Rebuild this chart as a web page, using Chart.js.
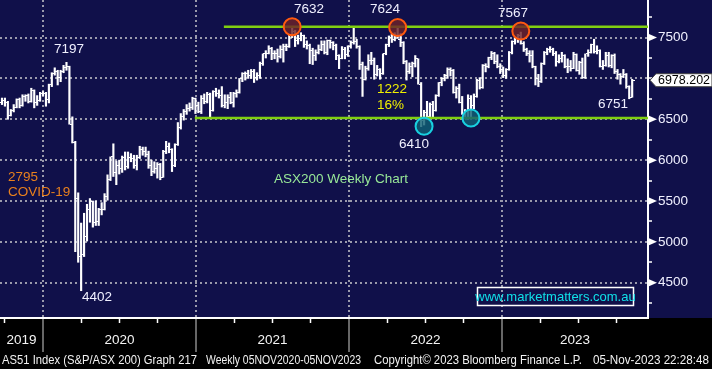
<!DOCTYPE html>
<html lang="en">
<head>
<meta charset="UTF-8">
<title>ASX200 Weekly Chart</title>
<style>
  html, body { margin: 0; padding: 0; background: #000; }
  canvas { display: block; }
</style>
</head>
<body>
<canvas id="asx" width="712" height="369"></canvas>
<script src="https://cdn.jsdelivr.net/npm/chart.js"></script>
<script>
// weekly OHLC bars, index 0 = week ending 20 Sep 2019, last = week ending 3 Nov 2023
const opens = [
  6700, 6730, 6700, 6550, 6610, 6650, 6740, 6670, 6780, 6790, 6720, 6850, 6700, 6730, 6820, 6810,
  6740, 6920, 7060, 7090, 7010, 7090, 7130, 7140, 6440, 6220, 5530, 4820, 4840, 5060, 5390, 5490,
  5240, 5250, 5390, 5400, 5550, 5760, 6040, 5850, 5940, 5900, 6030, 5920, 6030, 6020, 5930, 6030,
  6130, 6110, 6070, 5930, 5860, 5900, 5950, 5790, 6100, 6170, 6130, 5930, 6190, 6400, 6540, 6600,
  6630, 6640, 6750, 6670, 6590, 6760, 6720, 6800, 6610, 6840, 6810, 6790, 6670, 6710, 6770, 6710,
  6820, 6830, 7000, 7060, 7060, 7030, 7080, 7010, 7030, 7180, 7300, 7310, 7370, 7310, 7310, 7270,
  7350, 7390, 7390, 7520, 7580, 7460, 7490, 7520, 7410, 7400, 7340, 7280, 7320, 7360, 7420, 7320,
  7460, 7440, 7400, 7280, 7250, 7350, 7290, 7390, 7440, 7450, 7390, 7170, 6990, 7120, 7220, 7220,
  7050, 7110, 7060, 7300, 7410, 7500, 7480, 7520, 7480, 7440, 7210, 7080, 7150, 7180, 7240, 6930,
  6480, 6580, 6540, 6680, 6610, 6790, 6950, 7000, 7030, 7110, 7100, 6830, 6880, 6700, 6570, 6520,
  6760, 6670, 6780, 6980, 6890, 7160, 7140, 7260, 7300, 7210, 7150, 7110, 7040, 7110, 7320, 7450,
  7490, 7530, 7430, 7350, 7310, 7280, 7140, 7000, 6960, 7180, 7320, 7360, 7360, 7310, 7210, 7250,
  7280, 7150, 7140, 7120, 7290, 7100, 7200, 7010, 7300, 7320, 7410, 7330, 7340, 7150, 7160, 7280,
  7160, 7280, 7080, 7050, 7020, 7050, 6900, 6770
]
const highs = [
  6760, 6760, 6720, 6620, 6680, 6750, 6760, 6800, 6800, 6810, 6880, 6860, 6790, 6830, 6840, 6830,
  6930, 7070, 7130, 7100, 7100, 7160, 7197, 7150, 6530, 6230, 5600, 5230, 5350, 5460, 5530, 5500,
  5500, 5410, 5480, 5590, 5820, 6040, 6200, 5990, 6000, 6050, 6100, 6100, 6080, 6060, 6060, 6170,
  6160, 6160, 6110, 6000, 5980, 5970, 5960, 6120, 6230, 6210, 6140, 6200, 6460, 6570, 6620, 6680,
  6700, 6770, 6760, 6710, 6790, 6810, 6830, 6820, 6850, 6880, 6860, 6900, 6800, 6800, 6830, 6830,
  6860, 7000, 7070, 7080, 7100, 7110, 7110, 7070, 7200, 7300, 7340, 7400, 7380, 7340, 7360, 7400,
  7420, 7420, 7530, 7632, 7590, 7530, 7560, 7530, 7460, 7420, 7370, 7350, 7410, 7460, 7460, 7470,
  7470, 7450, 7420, 7290, 7390, 7380, 7400, 7460, 7620, 7480, 7400, 7200, 7150, 7290, 7320, 7250,
  7160, 7120, 7300, 7420, 7520, 7540, 7560, 7624, 7550, 7450, 7220, 7190, 7200, 7280, 7240, 6950,
  6610, 6720, 6700, 6720, 6800, 6950, 7010, 7050, 7130, 7130, 7110, 6900, 6930, 6780, 6620, 6800,
  6790, 6810, 6990, 7010, 7170, 7180, 7260, 7330, 7320, 7290, 7180, 7140, 7120, 7330, 7460, 7500,
  7540, 7567, 7450, 7370, 7340, 7340, 7150, 7050, 7190, 7330, 7370, 7390, 7370, 7330, 7290, 7320,
  7290, 7240, 7220, 7320, 7300, 7210, 7250, 7300, 7350, 7420, 7480, 7400, 7350, 7220, 7320, 7320,
  7290, 7300, 7110, 7060, 7110, 7060, 6910, 6990
]
const lows = [
  6680, 6660, 6500, 6540, 6590, 6640, 6640, 6660, 6720, 6700, 6710, 6640, 6670, 6720, 6790, 6660,
  6700, 6900, 7040, 6920, 6960, 7070, 7100, 6440, 6210, 4880, 4750, 4402, 4820, 5010, 5240, 5180,
  5200, 5200, 5330, 5390, 5510, 5750, 5800, 5700, 5830, 5850, 5880, 5900, 5980, 5900, 5880, 6020,
  6060, 6040, 5900, 5810, 5840, 5780, 5760, 5790, 6080, 6090, 5860, 5920, 6180, 6380, 6490, 6560,
  6600, 6620, 6570, 6580, 6570, 6690, 6700, 6530, 6600, 6780, 6760, 6650, 6640, 6630, 6690, 6650,
  6770, 6820, 6960, 6980, 7000, 7000, 6950, 6980, 7000, 7160, 7250, 7300, 7230, 7240, 7200, 7250,
  7200, 7340, 7380, 7500, 7390, 7420, 7460, 7380, 7360, 7180, 7170, 7220, 7300, 7340, 7300, 7290,
  7370, 7350, 7230, 7120, 7240, 7240, 7270, 7370, 7420, 7370, 7110, 6780, 6980, 7100, 7170, 6990,
  7030, 6990, 7050, 7290, 7390, 7440, 7460, 7490, 7390, 7180, 6980, 7060, 7020, 7140, 6930, 6410,
  6430, 6500, 6520, 6530, 6600, 6780, 6910, 6970, 7000, 7030, 6820, 6760, 6700, 6560, 6510, 6500,
  6510, 6630, 6770, 6870, 6880, 7080, 7130, 7230, 7180, 7130, 7060, 7010, 7000, 7100, 7300, 7420,
  7440, 7420, 7330, 7280, 7200, 7130, 6920, 6900, 6950, 7170, 7290, 7320, 7280, 7150, 7190, 7200,
  7130, 7070, 7090, 7120, 7090, 7050, 7000, 7000, 7270, 7310, 7310, 7300, 7140, 7110, 7150, 7140,
  7130, 7060, 6990, 6930, 7010, 6880, 6751, 6770
]
const closes = [
  6730, 6700, 6550, 6610, 6650, 6740, 6670, 6780, 6790, 6720, 6850, 6700, 6730, 6820, 6810, 6740,
  6920, 7060, 7090, 7010, 7090, 7130, 7140, 6440, 6220, 5530, 4820, 4840, 5060, 5390, 5490, 5240,
  5250, 5390, 5400, 5550, 5760, 6040, 5850, 5940, 5900, 6030, 5920, 6030, 6020, 5930, 6030, 6130,
  6110, 6070, 5930, 5860, 5900, 5950, 5790, 6100, 6170, 6130, 5930, 6190, 6400, 6540, 6600, 6630,
  6640, 6750, 6670, 6590, 6760, 6720, 6800, 6610, 6840, 6810, 6790, 6670, 6710, 6770, 6710, 6820,
  6830, 7000, 7060, 7060, 7030, 7080, 7010, 7030, 7180, 7300, 7310, 7370, 7310, 7310, 7270, 7350,
  7390, 7390, 7520, 7580, 7460, 7490, 7520, 7410, 7400, 7340, 7280, 7320, 7360, 7420, 7320, 7460,
  7440, 7400, 7280, 7250, 7350, 7290, 7390, 7440, 7450, 7390, 7170, 6990, 7120, 7220, 7220, 7050,
  7110, 7060, 7300, 7410, 7500, 7480, 7520, 7480, 7440, 7210, 7080, 7150, 7180, 7240, 6930, 6480,
  6580, 6540, 6680, 6610, 6790, 6950, 7000, 7030, 7110, 7100, 6830, 6880, 6700, 6570, 6520, 6760,
  6670, 6780, 6980, 6890, 7160, 7140, 7260, 7300, 7210, 7150, 7110, 7040, 7110, 7320, 7450, 7490,
  7530, 7430, 7350, 7310, 7280, 7140, 7000, 6960, 7180, 7320, 7360, 7360, 7310, 7210, 7250, 7280,
  7150, 7140, 7120, 7290, 7100, 7200, 7010, 7300, 7320, 7410, 7330, 7340, 7150, 7160, 7280, 7160,
  7280, 7080, 7050, 7020, 7050, 6900, 6770, 6978.202
]

// x axis in week-index units
const xMin = -0.68, xMax = 220.4
const yearNames = ['2019', '2020', '2021', '2022', '2023']
const yearStarts = [14.0, 66.2, 118.4, 170.6]
const quarterTicks = [0.95, 27.05, 40.1, 53.15, 79.25, 92.3, 105.35, 131.45, 144.5, 157.55, 183.65, 196.7, 209.75]
const yMin = 4068, yMax = 7960
const priceTicks = [4250, 4500, 4750, 5000, 5250, 5500, 5750, 6000, 6250, 6500, 6750, 7000, 7250, 7500, 7750]
const labelledPrices = [4500, 5000, 5500, 6000, 6500, 7500]

// support / resistance lines and circled turning points
const levels = [7632, 6515]
const levelStarts = [75.7, 65.8]
const peakWeeks = [99, 135, 177]
const peakValues = [7632, 7624, 7580]
const troughWeeks = [144, 160]
const troughValues = [6415, 6515]

const FONT = "'Liberation Sans', Arial, sans-serif"
const NAVY = '#10104a'
const DOTS = '#9a9aac'

const yearMids = [(xMin + yearStarts[0]) / 2]
for (let k = 0; k < yearStarts.length; k++) {
  const next = k + 1 < yearStarts.length ? yearStarts[k + 1] : xMax
  yearMids.push((yearStarts[k] + next) / 2)
}

// little open/close tick images used as point styles
function tickImage(left) {
  const c = document.createElement('canvas')
  c.width = 5
  c.height = 1
  const g = c.getContext('2d')
  g.fillStyle = '#ffffff'
  g.fillRect(left ? 0 : 3, 0, 2, 1)
  return c
}

const notes = [
  { t: '7197', x: 69, y: 49, c: '#f0f0ff', a: 'center' },
  { t: '4402', x: 97, y: 297, c: '#f0f0ff', a: 'center' },
  { t: '2795', x: 8, y: 177, c: '#e8801e', a: 'left' },
  { t: 'COVID-19', x: 8, y: 192, c: '#e8801e', a: 'left' },
  { t: '7632', x: 309, y: 9, c: '#f0f0ff', a: 'center' },
  { t: '7624', x: 385, y: 9, c: '#f0f0ff', a: 'center' },
  { t: '1222', x: 377, y: 89, c: '#f0f000', a: 'left' },
  { t: '16%', x: 377, y: 105, c: '#f0f000', a: 'left' },
  { t: '6410', x: 414, y: 144, c: '#f0f0ff', a: 'center' },
  { t: '7567', x: 513, y: 13, c: '#f0f0ff', a: 'center' },
  { t: '6751', x: 613, y: 104, c: '#f0f0ff', a: 'center' },
  { t: 'ASX200 Weekly Chart', x: 341, y: 179, c: '#98e898', a: 'center' }
]

const footer = [
  { t: 'AS51 Index (S&P/ASX 200) Graph 217', x: 2, w: 195 },
  { t: 'Weekly 05NOV2020-05NOV2023', x: 206, w: 155 },
  { t: 'Copyright\u00a9 2023 Bloomberg Finance L.P.', x: 374, w: 208 },
  { t: '05-Nov-2023 22:28:48', x: 593, w: 116 }
]

const backdrop = {
  id: 'backdrop',
  beforeDraw(chart) {
    const { ctx, width, height, chartArea } = chart
    ctx.save()
    ctx.fillStyle = '#000'
    ctx.fillRect(0, 0, width, height)
    ctx.fillStyle = NAVY
    ctx.fillRect(0, 0, width, chartArea.bottom)
    ctx.restore()
  },
  beforeDatasetsDraw(chart) {
    chart.ctx.imageSmoothingEnabled = false
  }
}

// fits a text into a given width by stretching it horizontally
function fitText(ctx, text, x, y, w) {
  const m = ctx.measureText(text).width
  ctx.save()
  ctx.translate(x, y)
  ctx.scale(w / m, 1)
  ctx.fillText(text, 0, 0)
  ctx.restore()
}

const extras = {
  id: 'extras',
  afterDraw(chart) {
    const { ctx, chartArea } = chart
    const ys = chart.scales.y
    ctx.save()
    ctx.imageSmoothingEnabled = true

    // arrows on the labelled price ticks
    ctx.fillStyle = '#ffffff'
    labelledPrices.forEach(v => {
      const py = ys.getPixelForValue(v)
      ctx.beginPath()
      ctx.moveTo(chartArea.right + 1, py - 3.5)
      ctx.lineTo(chartArea.right + 9, py)
      ctx.lineTo(chartArea.right + 1, py + 3.5)
      ctx.closePath()
      ctx.fill()
    })

    // last price box
    const last = closes[closes.length - 1]
    const py = ys.getPixelForValue(last)
    const bx = chartArea.right + 2
    ctx.beginPath()
    ctx.moveTo(bx, py)
    ctx.lineTo(bx + 6, py - 6.5)
    ctx.lineTo(712, py - 6.5)
    ctx.lineTo(712, py + 6.5)
    ctx.lineTo(bx + 6, py + 6.5)
    ctx.closePath()
    ctx.fillStyle = '#ffffff'
    ctx.fill()
    ctx.strokeStyle = '#404040'
    ctx.lineWidth = 1
    ctx.stroke()
    ctx.fillStyle = '#000000'
    ctx.font = '13px ' + FONT
    ctx.textAlign = 'left'
    ctx.textBaseline = 'middle'
    fitText(ctx, last.toFixed(3), bx + 8, py + 0.5, 52)

    // text annotations
    ctx.font = '13.5px ' + FONT
    notes.forEach(n => {
      ctx.fillStyle = n.c
      ctx.textAlign = n.a
      ctx.fillText(n.t, n.x, n.y)
    })

    // web address box
    ctx.strokeStyle = '#ffffff'
    ctx.lineWidth = 1.5
    ctx.strokeRect(477.5, 287.5, 156, 18)
    ctx.fillStyle = '#10e0e8'
    ctx.font = '13px ' + FONT
    ctx.textAlign = 'center'
    ctx.fillText('www.marketmatters.com.au', 555.5, 297)

    // footer line
    ctx.fillStyle = '#f2f2f2'
    ctx.font = '12.5px ' + FONT
    ctx.textAlign = 'left'
    footer.forEach(f => fitText(ctx, f.t, f.x, 361, f.w))
    ctx.restore()
  }
}

// zero-size axes that only draw grid lines / tick marks on the chart edge
const flat = s => { s.height = 0; s.paddingLeft = 0; s.paddingRight = 0 }

new Chart(document.getElementById('asx'), {
  type: 'bar',
  data: {
    datasets: [
      {
        type: 'line', showLine: false,
        data: peakWeeks.map((w, k) => ({ x: w, y: peakValues[k] })),
        pointRadius: 8.5, pointBorderWidth: 2,
        pointBorderColor: '#ff5a10', pointBackgroundColor: 'rgba(110, 34, 40, 0.82)'
      },
      {
        type: 'line', showLine: false,
        data: troughWeeks.map((w, k) => ({ x: w, y: troughValues[k] })),
        pointRadius: 8.5, pointBorderWidth: 2,
        pointBorderColor: '#18d0e0', pointBackgroundColor: 'rgba(16, 96, 116, 0.82)'
      },
      {
        type: 'line', data: [{ x: levelStarts[0], y: levels[0] }, { x: xMax, y: levels[0] }],
        borderColor: '#80d010', borderWidth: 2.5, pointRadius: 0
      },
      {
        type: 'line', data: [{ x: levelStarts[1], y: levels[1] }, { x: xMax, y: levels[1] }],
        borderColor: '#80d010', borderWidth: 2.5, pointRadius: 0
      },
      {
        type: 'line', showLine: false,
        data: opens.map((o, k) => ({ x: k, y: o })),
        pointStyle: tickImage(true), pointRadius: 1
      },
      {
        type: 'line', showLine: false,
        data: closes.map((c, k) => ({ x: k, y: c })),
        pointStyle: tickImage(false), pointRadius: 1
      },
      {
        type: 'bar',
        data: highs.map((h, k) => ({ x: k, y: [lows[k], h] })),
        backgroundColor: '#ffffff', borderWidth: 0, barThickness: 1.5
      }
    ]
  },
  options: {
    responsive: false,
    animation: false,
    events: [],
    layout: { padding: 0, autoPadding: false },
    plugins: { legend: { display: false }, tooltip: { enabled: false } },
    scales: {
      x: {
        type: 'linear', position: 'bottom', min: xMin, max: xMax, offset: false, weight: 2,
        afterFit: s => { s.height = 51; s.paddingLeft = 0; s.paddingRight = 0 },
        afterBuildTicks: s => { s.ticks = yearMids.map(v => ({ value: v })) },
        ticks: {
          autoSkip: false, maxRotation: 0, padding: 0, color: '#f4f4f4',
          font: { size: 13.5, family: FONT },
          callback: (v, k) => yearNames[k]
        },
        grid: { display: false, drawTicks: true, tickLength: 14, offset: false },
        border: { display: true, color: '#ffffff', width: 2 }
      },
      xYear: {
        type: 'linear', position: 'bottom', min: xMin, max: xMax, offset: false, weight: 1,
        afterFit: flat,
        afterBuildTicks: s => { s.ticks = yearStarts.map(v => ({ value: v })) },
        ticks: { display: false },
        grid: { color: DOTS, lineWidth: 2, tickColor: '#8a8a8a', tickWidth: 1.5, tickLength: 34, offset: false },
        border: { display: false, dash: [2, 3] }
      },
      xQ: {
        type: 'linear', position: 'bottom', min: xMin, max: xMax, offset: false, weight: 0,
        afterFit: flat,
        afterBuildTicks: s => { s.ticks = quarterTicks.map(v => ({ value: v })) },
        ticks: { display: false },
        grid: { drawOnChartArea: false, tickColor: '#ffffff', tickWidth: 1.5, tickLength: 5, offset: false },
        border: { display: false }
      },
      y: {
        type: 'linear', position: 'right', min: yMin, max: yMax,
        afterFit: s => { s.width = 64; s.paddingTop = 0; s.paddingBottom = 0 },
        afterBuildTicks: s => { s.ticks = priceTicks.map(v => ({ value: v })) },
        ticks: {
          autoSkip: false, padding: 6, color: '#f0f0ff',
          font: { size: 13.5, family: FONT },
          callback: v => labelledPrices.includes(v) ? String(v) : ''
        },
        grid: {
          color: c => (c.tick && c.tick.value % 500 === 0) ? DOTS : 'rgba(0,0,0,0)',
          lineWidth: 2, tickColor: '#ffffff', tickWidth: 1.5, tickLength: 4
        },
        border: { display: true, color: '#ffffff', width: 2, dash: [2, 3] }
      }
    }
  },
  plugins: [backdrop, extras]
})
</script>
</body>
</html>
